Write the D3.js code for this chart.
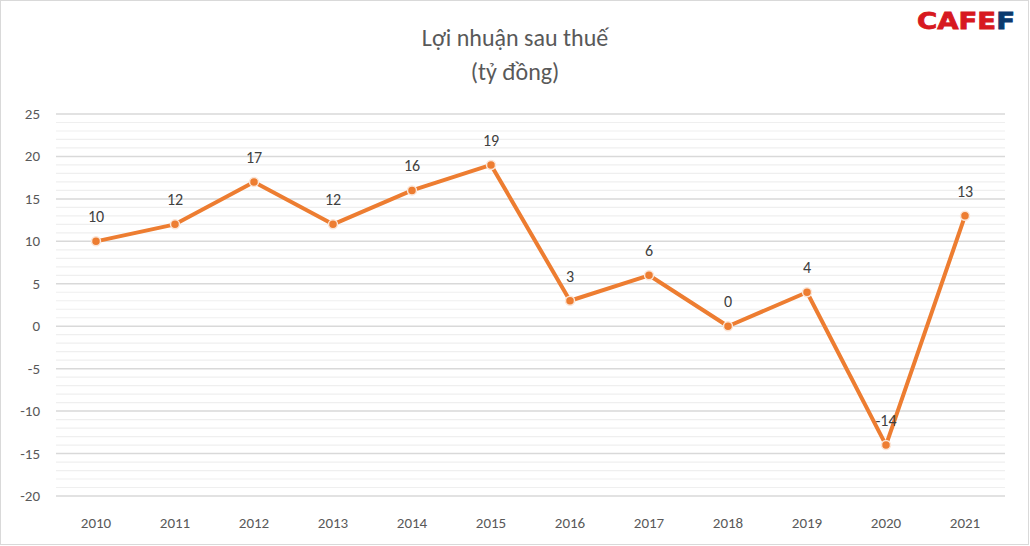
<!DOCTYPE html><html><head><meta charset="utf-8"><script src="https://cdn.jsdelivr.net/npm/d3@7"></script>
<style>body{margin:0;background:#fff}</style></head><body><svg id="c" width="1030" height="546"></svg><script>
const years=["2010","2011","2012","2013","2014","2015","2016","2017","2018","2019","2020","2021"];
const profit=[10,12,17,12,16,19,3,6,0,4,-14,13];
const yTicks=[25,20,15,10,5,0,-5,-10,-15,-20];
const F="Carlito, Calibri, 'Open Sans', sans-serif";
const svg=d3.select("#c");
svg.append("rect").attr("x",0.5).attr("y",0.5).attr("width",1028).attr("height",544).attr("fill","#fff").attr("stroke","#d9d9d9");
const x=d3.scaleBand().domain(years).range([56.5,1004.5]);
const y=d3.scaleLinear().domain([-20,25]).range([496,114]);
const g=svg.append("g");
d3.range(-20,26,1).forEach(v=>{const major=v%5===0;
g.append("line").attr("x1",56).attr("x2",1005).attr("y1",y(v)).attr("y2",y(v)).attr("stroke",major?"#d9d9d9":"#efefef").attr("stroke-width",major?1.5:1.2);});
svg.append("g").selectAll("text").data(yTicks).join("text").attr("x",40).attr("y",d=>y(d)+5).attr("text-anchor","end")
.attr("font-family",F).attr("font-size",15).attr("fill","#595959").text(d=>d);
svg.append("g").selectAll("text").data(years).join("text").attr("x",d=>x(d)+x.bandwidth()/2).attr("y",528).attr("text-anchor","middle")
.attr("font-family",F).attr("font-size",15).attr("fill","#595959").text(d=>d);
const cx=(d,i)=>x(years[i])+x.bandwidth()/2;
svg.append("path").datum(profit).attr("d",d3.line().x(cx).y(d=>y(d))).attr("fill","none").attr("stroke","#ed7d31").attr("stroke-width",4).attr("stroke-linejoin","round");
svg.append("g").selectAll("circle").data(profit).join("circle").attr("cx",cx).attr("cy",d=>y(d)).attr("r",4.5).attr("fill","#ed7d31").attr("stroke","#fbe5d6").attr("stroke-width",1.5);
svg.append("g").selectAll("text").data(profit).join("text").attr("x",cx).attr("y",d=>y(d)-19).attr("text-anchor","middle")
.attr("font-family",F).attr("font-size",16).attr("fill","#404040").text(d=>d);
svg.append("text").attr("x",515).attr("y",46).attr("text-anchor","middle").attr("font-family",F).attr("font-size",24).attr("fill","#595959").text("Lợi nhuận sau thuế");
svg.append("text").attr("x",515).attr("y",80).attr("text-anchor","middle").attr("font-family",F).attr("font-size",24).attr("fill","#595959").text("(tỷ đồng)");
const logo=svg.append("text").attr("x",917).attr("y",29).attr("font-family","'DejaVu Sans', sans-serif").attr("font-weight","bold").attr("font-size",23).attr("textLength",98).attr("lengthAdjust","spacingAndGlyphs").attr("stroke-width",0.8);
logo.append("tspan").attr("fill","#d71920").attr("stroke","#d71920").text("CAFE");
logo.append("tspan").attr("fill","#0b3a6e").attr("stroke","#0b3a6e").text("F");
</script></body></html>
